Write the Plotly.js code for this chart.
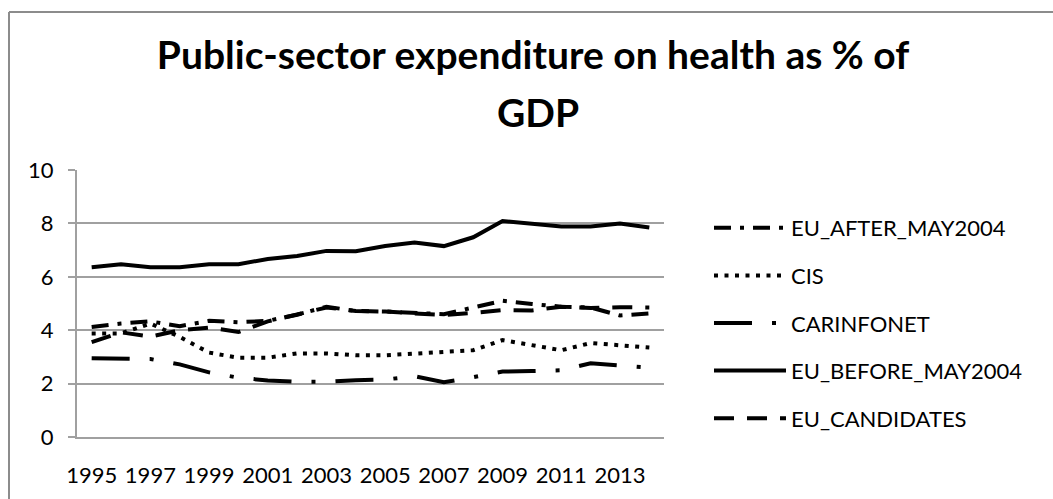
<!DOCTYPE html>
<html>
<head>
<meta charset="utf-8">
<script src="https://cdn.plot.ly/plotly-3.0.1.min.js"></script>
<style>html,body{margin:0;padding:0;background:#fff;}#chart{width:1053px;height:499px;}</style>
</head>
<body>
<div id="chart"></div>
<script>
const years = [1995,1996,1997,1998,1999,2000,2001,2002,2003,2004,2005,2006,2007,2008,2009,2010,2011,2012,2013,2014];
const seriesNames = ["EU_AFTER_MAY2004","CIS","CARINFONET","EU_BEFORE_MAY2004","EU_CANDIDATES"];
const euAfter = [4.12,4.25,4.33,4.15,4.35,4.30,4.35,4.58,4.88,4.72,4.70,4.65,4.60,4.85,5.10,4.98,4.88,4.85,4.55,4.63];
const cis = [3.88,3.88,4.25,3.75,3.16,2.97,2.97,3.13,3.13,3.06,3.06,3.12,3.16,3.25,3.63,3.45,3.25,3.52,3.45,3.35];
const carinfonet = [2.95,2.95,2.92,2.72,2.42,2.22,2.12,2.07,2.07,2.13,2.15,2.28,2.05,2.24,2.45,2.47,2.50,2.76,2.67,2.60];
const euBefore = [6.36,6.47,6.36,6.36,6.47,6.47,6.67,6.78,6.97,6.96,7.15,7.28,7.15,7.48,8.09,7.97,7.88,7.88,8.00,7.85];
const euCandidates = [3.55,3.92,3.76,4.00,4.10,3.93,4.33,4.58,4.85,4.72,4.70,4.63,4.57,4.65,4.75,4.74,4.88,4.83,4.86,4.85];
const titleLine1 = "Public-sector expenditure on health as % of";
const titleLine2 = "GDP";
const yTicks = [0,2,4,6,8,10];
const xTicks = [1995,1997,1999,2001,2003,2005,2007,2009,2011,2013];

const values = [euAfter, cis, carinfonet, euBefore, euCandidates];
const dashes = ["17px,9px,4px,9px", "4px,6.5px", "38px,20px,4px,20px", "solid", "20px,13px"];
const FONT = "Lato, 'Open Sans', sans-serif";

const traces = values.map((v, i) => ({
  type: "scatter", mode: "lines", name: seriesNames[i], x: years, y: v,
  line: {color: "#000", width: 4, dash: dashes[i]},
  legendgroup: "g" + i, hoverinfo: "x+y+name"
}));

// chart geometry in pixels
const W = 1053, H = 499, L = 77, R = 664, T = 170, B = 437;
const px2x = p => (p - L) / (R - L);
const px2y = p => (B - p) / (B - T);

const layout = {
  width: W, height: H,
  margin: {l: L, r: W - R, t: T, b: H - B, pad: 0},
  paper_bgcolor: "#fff", plot_bgcolor: "#fff",
  font: {family: FONT, color: "#000", size: 22},
  title: {text: titleLine1, font: {family: FONT, size: 39, weight: 700, color: "#000"},
          x: 533 / W, xanchor: "center", xref: "container", y: 1 - 55 / H, yanchor: "middle", yref: "container"},
  annotations: [{text: titleLine2, xref: "paper", yref: "paper", x: px2x(538), y: px2y(112),
                 xanchor: "center", yanchor: "middle", showarrow: false,
                 font: {family: FONT, size: 39, weight: 700, color: "#000"}}],
  xaxis: {range: [1994.5, 2014.5], tickvals: xTicks, ticktext: xTicks.map(String),
          showgrid: false, zeroline: false, showline: true, linecolor: "#a0a0a0", linewidth: 2,
          ticks: "outside", ticklen: 18, tickcolor: "rgba(0,0,0,0)", tickfont: {family: FONT, size: 22, color: "#000"}},
  yaxis: {range: [0, 10], tickvals: yTicks, showgrid: true, gridcolor: "#a0a0a0", gridwidth: 2,
          zeroline: false, showline: true, linecolor: "#a0a0a0", linewidth: 2,
          ticks: "outside", ticklen: 7, tickwidth: 2, tickcolor: "#a0a0a0", ticklabelstandoff: 10,
          tickfont: {family: FONT, size: 22, color: "#000"}},
  legend: {x: px2x(709), y: px2y(207), xanchor: "left", yanchor: "top", xref: "paper", yref: "paper",
           font: {family: FONT, size: 22, color: "#000"}, itemwidth: 72, tracegroupgap: 16,
           bgcolor: "rgba(0,0,0,0)", traceorder: "grouped"},
  shapes: [
    {type: "line", xref: "paper", yref: "paper", x0: px2x(9), x1: px2x(1060), y0: px2y(12), y1: px2y(12), line: {color: "#8c8c8c", width: 2}},
    {type: "line", xref: "paper", yref: "paper", x0: px2x(9), x1: px2x(9), y0: px2y(12), y1: px2y(510), line: {color: "#8c8c8c", width: 2}}
  ],
  showlegend: true
};

Plotly.newPlot("chart", traces, layout, {displayModeBar: false, staticPlot: true});
</script>
</body>
</html>
